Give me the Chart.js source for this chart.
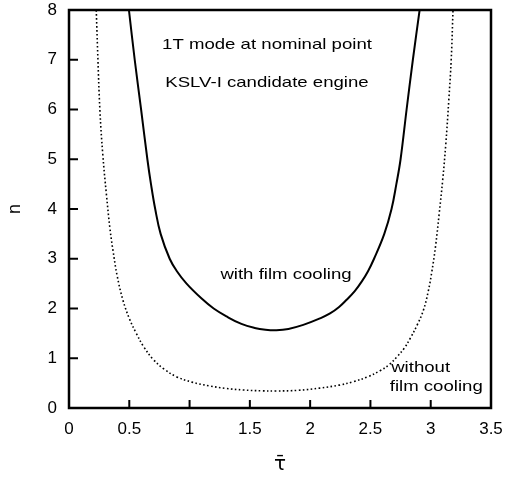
<!DOCTYPE html>
<html>
<head>
<meta charset="utf-8">
<script src="https://cdn.jsdelivr.net/npm/chart.js@4.4.1/dist/chart.umd.min.js"></script>
<style>
  html, body { margin: 0; padding: 0; background: #fff; }
</style>
</head>
<body>
<canvas id="chart" width="505" height="479"></canvas>
<script>
// values
var tauWith = [0.497, 0.545, 0.598, 0.650, 0.680, 0.715, 0.760, 0.835, 0.895, 0.975, 1.10, 1.20, 1.307, 1.43, 1.54, 1.63, 1.72, 1.82, 1.943, 2.08, 2.165, 2.24, 2.30, 2.37, 2.43, 2.48, 2.53, 2.615, 2.675, 2.715, 2.75, 2.80, 2.852, 2.908];
var nWith   = [8.0,   7.0,   6.0,   5.0,   4.5,   4.0,   3.5,   3.0,   2.75,  2.5,   2.2,  2.0,  1.84,  1.69, 1.61, 1.575, 1.565, 1.59, 1.67,  1.80, 1.90,  2.03, 2.17, 2.35, 2.55, 2.75, 3.0,  3.5,   4.0,   4.5,   5.0,  6.0,  7.0,   8.0];

var tauWithout = [0.226, 0.240, 0.256, 0.28, 0.31, 0.34, 0.364, 0.40, 0.447, 0.50, 0.558, 0.62, 0.697, 0.79, 0.891, 1.02, 1.168, 1.30, 1.445, 1.60, 1.72, 1.90, 2.08, 2.24, 2.36, 2.48, 2.58, 2.66, 2.72, 2.78, 2.83, 2.89, 2.94, 2.98, 3.01, 3.04, 3.07, 3.10, 3.125, 3.15, 3.17, 3.185];
var nWithout   = [8.0,   7.0,   6.0,   5.1,  4.3,  3.6,  3.18,  2.65, 2.17,  1.8,  1.50,  1.23, 0.98,  0.78, 0.63,  0.52, 0.442, 0.395, 0.362, 0.345, 0.342, 0.355, 0.40, 0.46, 0.53, 0.63, 0.75, 0.88, 1.03, 1.2,  1.40, 1.68, 1.97, 2.35, 2.75, 3.25, 3.9,  4.6,  5.3,   6.19, 7.0,  8.0];

var xTicks = [0, 0.5, 1, 1.5, 2, 2.5, 3, 3.5];
var yTicks = [0, 1, 2, 3, 4, 5, 6, 7, 8];

function toPoints(xs, ys) {
  return xs.map(function (x, i) { return { x: x, y: ys[i] }; });
}

// text written inside the plot, placed in data units
var notes = [
  { text: '1T mode at nominal point', x: 1.642, y: 7.3, align: 'center' },
  { text: 'KSLV-I candidate engine', x: 1.642, y: 6.53, align: 'center' },
  { text: 'with film cooling', x: 1.80, y: 2.67, align: 'center' },
  { text: 'without', x: 2.672, y: 0.80, align: 'left' },
  { text: 'film cooling', x: 2.66, y: 0.416, align: 'left' }
];

var framePlugin = {
  id: 'frame',
  afterDatasetsDraw: function (chart) {
    var ctx = chart.ctx, a = chart.chartArea;
    var xs = chart.scales.x, ys = chart.scales.y;
    ctx.save();
    ctx.strokeStyle = '#000';
    ctx.lineWidth = 2.5;
    ctx.strokeRect(a.left, a.top, a.right - a.left, a.bottom - a.top);
    ctx.lineWidth = 2;
    yTicks.forEach(function (v) {
      var p = ys.getPixelForValue(v);
      ctx.beginPath(); ctx.moveTo(a.left, p); ctx.lineTo(a.left + 9, p); ctx.stroke();
    });
    xTicks.forEach(function (v) {
      var p = xs.getPixelForValue(v);
      ctx.beginPath(); ctx.moveTo(p, a.bottom); ctx.lineTo(p, a.bottom - 8); ctx.stroke();
    });
    ctx.fillStyle = '#000';
    ctx.font = '15px "Liberation Sans", Arial, sans-serif';
    ctx.textBaseline = 'middle';
    notes.forEach(function (n) {
      var px = xs.getPixelForValue(n.x), py = ys.getPixelForValue(n.y);
      ctx.save();
      ctx.translate(px, py);
      ctx.scale(1.24, 1);
      ctx.textAlign = n.align;
      ctx.fillText(n.text, 0, 0);
      ctx.restore();
    });
    ctx.restore();
  }
};

var ctx = document.getElementById('chart').getContext('2d');
var myChart = new Chart(ctx, {
  type: 'scatter',
  data: {
    datasets: [{
      label: 'with film cooling',
      data: toPoints(tauWith, nWith),
      showLine: true,
      borderColor: '#000',
      borderWidth: 2,
      pointRadius: 0,
      tension: 0.4
    }, {
      label: 'without film cooling',
      data: toPoints(tauWithout, nWithout),
      showLine: true,
      borderColor: '#000',
      borderWidth: 1.6,
      borderDash: [1.6, 2.4],
      pointRadius: 0,
      tension: 0.4
    }]
  },
  options: {
    responsive: false,
    animation: false,
    layout: { padding: { top: 10, right: 14, left: 0, bottom: 0 } },
    plugins: { legend: { display: false }, tooltip: { enabled: false } },
    scales: {
      x: {
        type: 'linear', min: 0, max: 3.5,
        afterFit: function (s) { s.height = 71; s.paddingLeft = 0; s.paddingRight = 0; },
        afterBuildTicks: function (s) { s.ticks = xTicks.map(function (v) { return { value: v }; }); },
        grid: { drawOnChartArea: false, drawTicks: false },
        border: { display: false },
        ticks: { color: '#000', padding: 11, callback: function (v) { return String(v); }, font: { size: 17, family: '"Liberation Sans", Arial, sans-serif' } },
        title: { display: true, text: 'τ̄', color: '#000', padding: { top: 0, bottom: 2 }, font: { size: 20, family: '"DejaVu Sans", sans-serif' } }
      },
      y: {
        type: 'linear', min: 0, max: 8,
        afterFit: function (s) { s.width = 69; s.paddingTop = 0; s.paddingBottom = 0; },
        afterBuildTicks: function (s) { s.ticks = yTicks.map(function (v) { return { value: v }; }); },
        grid: { drawOnChartArea: false, drawTicks: false },
        border: { display: false },
        ticks: { color: '#000', padding: 12, callback: function (v) { return String(v); }, font: { size: 17, family: '"Liberation Sans", Arial, sans-serif' } },
        title: { display: true, text: 'n', color: '#000', padding: { top: 4, bottom: 0 }, font: { size: 18, family: '"Liberation Sans", Arial, sans-serif' } }
      }
    }
  },
  plugins: [framePlugin]
});
</script>
</body>
</html>
